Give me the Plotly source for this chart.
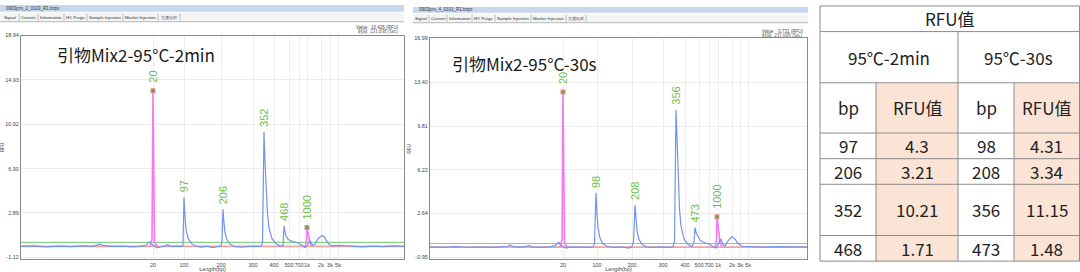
import plotly.graph_objects as go

W, H = 1080, 272
def px(x): return x / W
def py(y): return 1 - y / H

# ---------------- data ----------------
ladder_labels = ['20', '100', '200', '300', '400', '500', '700', '1k', '2k', '3k', '5k']
left_ladder_t = [132, 163, 200, 232, 253, 268, 278, 286, 300, 309, 317]
right_ladder_t = [133, 167, 202, 233, 255, 269, 279, 288, 302, 310, 318]

left_yticks = [-1.12, 2.89, 6.90, 10.92, 14.93, 18.94]
right_yticks = [-0.95, 2.64, 6.22, 9.81, 13.40, 16.99]

left_blue_t = [0, 12, 25, 38, 50, 62, 72, 77, 79, 82, 90, 102, 112, 120, 125, 127, 129, 130, 133, 136, 139, 144, 147, 149, 156, 161,
               162, 163, 164, 165, 167, 170, 174, 180, 186, 192, 197, 200, 201, 202, 203, 204, 206, 209, 213, 220, 228, 236, 240,
               241.5, 243, 244, 245, 246.5, 248, 251, 255, 259, 262, 262.5, 263, 264, 265, 267, 270, 274, 278, 281, 284, 286,
               288, 289, 290, 292, 294, 297, 301, 303, 305, 308, 311, 318, 325, 333, 342, 352, 362, 372, 383]
left_blue_y = [-0.15, -0.1, -0.18, -0.12, -0.16, -0.1, -0.14, -0.05, 0.05, -0.05, -0.15, -0.12, -0.18, -0.12, -0.05, 0.15, 0.25, 0.12, -0.05, -0.28, -0.2, -0.12, 0.0, -0.15, -0.12, -0.15,
               -0.05, 4.3, 2.6, 1.4, 0.6, 0.15, -0.1, -0.2, -0.12, -0.25, -0.15, -0.1, 0.3, 3.21, 2.0, 1.1, 0.45, 0.08, -0.15, -0.22, -0.15, -0.18, -0.15,
               0.2, 10.21, 7.5, 5.0, 2.8, 1.5, 0.55, 0.1, -0.12, -0.1, 0.5, 1.71, 1.2, 0.8, 0.5, 0.35, 0.25, 0.12, -0.05, -0.25, -0.1,
               0.3, 0.4, 0.15, -0.05, 0.05, 0.55, 0.84, 0.75, 0.45, 0.05, -0.1, -0.05, -0.1, -0.12, -0.18, -0.12, -0.16, -0.1, -0.14]

right_blue_t = [0, 12, 25, 38, 50, 62, 70, 78, 80, 83, 92, 98, 100, 102, 112, 120, 125, 127, 129, 130, 133, 136, 140, 148, 155, 163,
                164.5, 166, 167, 168, 170, 173, 177, 184, 192, 198, 202, 203.5, 205, 206, 207, 209, 212, 216, 224, 232, 238, 243,
                244.5, 246, 247, 248, 249.5, 251, 254, 258, 262, 264, 265, 266, 268, 270, 273, 277, 280, 283, 286,
                288, 290, 291, 293, 295, 298, 302, 305, 308, 312, 318, 326, 335, 345, 355, 365, 377]
right_blue_y = [-0.1, -0.14, -0.08, -0.13, -0.1, -0.15, -0.1, -0.05, 0.05, -0.08, -0.12, -0.06, 0.0, -0.1, -0.14, -0.1, 0.0, 0.15, 0.26, 0.1, -0.05, -0.2, -0.12, -0.1, -0.15, -0.1,
                0.2, 4.31, 2.6, 1.5, 0.6, 0.15, -0.05, -0.15, -0.1, -0.2, -0.1, 0.3, 3.34, 2.1, 1.2, 0.5, 0.1, -0.1, -0.15, -0.1, -0.15, -0.1,
                0.3, 11.15, 8.2, 5.5, 3.0, 1.6, 0.55, 0.1, -0.08, 0.3, 1.48, 1.1, 0.7, 0.45, 0.3, 0.2, 0.1, -0.1, -0.2,
                0.1, 0.5, 0.55, 0.1, -0.05, 0.4, 0.75, 0.55, 0.15, -0.05, -0.08, -0.1, -0.12, -0.08, -0.12, -0.1, -0.12]

left_marker_t = [129, 131, 132, 133.5, 136, None, 284, 285.5, 286, 287.5, 289, 291]
left_marker_y = [-0.14, 0.5, 13.95, 0.3, -0.14, None, -0.2, 0.5, 1.56, 0.8, 0.2, -0.1]
right_marker_t = [130, 132, 133, 134.5, 137, None, 285, 286.5, 287, 288.5, 290, 292]
right_marker_y = [-0.14, 0.5, 12.6, 0.3, -0.14, None, -0.2, 0.5, 2.36, 1.0, 0.3, -0.1]

left_peak_labels = ['20', '97', '206', '352', '468', '1000']
left_peak_t = [132, 163, 202, 243, 263, 286]
left_peak_rfu = [13.95, 4.3, 3.21, 10.21, 1.71, 1.56]
right_peak_labels = ['20', '98', '208', '356', '473', '1000']
right_peak_t = [133, 166, 205, 246, 265, 287]
right_peak_rfu = [12.6, 4.31, 3.34, 11.15, 1.48, 2.36]

left_threshold, left_baseline = 0.22, -0.14
right_threshold, right_baseline = 0.18, -0.12

cond_labels = ['95℃-2min', '95℃-30s']
tbl_bp_2min = [97, 206, 352, 468]
tbl_rfu_2min = [4.3, 3.21, 10.21, 1.71]
tbl_bp_30s = [98, 208, 356, 473]
tbl_rfu_30s = [4.31, 3.34, 11.15, 1.48]

BLUE = '#7393ec'
PINK = '#f57af2'
GREEN_TXT = '#6cbf48'
SMALL = dict(family='Liberation Sans', size=5.5, color='#444')

fig = go.Figure()

def add_panel(xa, ya, xmax, blue_t, blue_y, mk_t, mk_y, thr, base, pk_t, pk_y, pk_lab):
    fig.add_trace(go.Scatter(x=[0, xmax], y=[base, base], mode='lines', line=dict(color='#f4a3a3', width=1.6),
                             xaxis=xa, yaxis=ya, hoverinfo='skip'))
    fig.add_trace(go.Scatter(x=[0, xmax], y=[thr, thr], mode='lines', line=dict(color='#86d486', width=1.1),
                             xaxis=xa, yaxis=ya, hoverinfo='skip'))
    fig.add_trace(go.Scatter(x=mk_t, y=mk_y, mode='lines', line=dict(color=PINK, width=1.6),
                             xaxis=xa, yaxis=ya, connectgaps=False))
    fig.add_trace(go.Scatter(x=blue_t, y=blue_y, mode='lines', line=dict(color=BLUE, width=1.2),
                             xaxis=xa, yaxis=ya))
    mx = [pk_t[0], pk_t[-1]]
    my = [pk_y[0], pk_y[-1]]
    fig.add_trace(go.Scatter(x=mx, y=my, mode='markers', marker=dict(symbol='square', size=5, color='#f28a8a'),
                             xaxis=xa, yaxis=ya))
    fig.add_trace(go.Scatter(x=mx, y=my, mode='markers', marker=dict(symbol='circle', size=3, color='#3cb043'),
                             xaxis=xa, yaxis=ya))
    for i, (t, v, lab) in enumerate(zip(pk_t, pk_y, pk_lab)):
        shift = 6 if i in (0, len(pk_t) - 1) else 3
        fig.add_annotation(x=t, y=v, xref=xa, yref=ya, text=lab, textangle=-90, showarrow=False,
                           xanchor='center', yanchor='bottom', yshift=shift,
                           font=dict(family='Liberation Sans', size=11, color=GREEN_TXT))

add_panel('x', 'y', 383, left_blue_t, left_blue_y, left_marker_t, left_marker_y, left_threshold, left_baseline,
          left_peak_t, left_peak_rfu, left_peak_labels)
add_panel('x2', 'y2', 377, right_blue_t, right_blue_y, right_marker_t, right_marker_y, right_threshold, right_baseline,
          right_peak_t, right_peak_rfu, right_peak_labels)

def xaxis(dom, xmax, ladder, anchor):
    return dict(domain=dom, range=[0, xmax], tickvals=ladder, ticktext=ladder_labels, tickfont=SMALL, tickangle=0,
                showgrid=True, gridcolor='#eeeeee', gridwidth=1, zeroline=False, showline=True, linecolor='#8a8a8a',
                linewidth=1, mirror=True, ticks='', anchor=anchor,
                title=dict(text='Length(bp)', font=SMALL, standoff=0))

def yaxis(dom, rng, ticks, anchor):
    return dict(domain=dom, range=rng, tickvals=ticks, ticktext=['%.2f' % t for t in ticks], tickfont=SMALL,
                showgrid=True, gridcolor='#ececec', zeroline=False, showline=True, linecolor='#8a8a8a', linewidth=1,
                mirror=True, ticks='', anchor=anchor,
                title=dict(text='RFU', font=dict(family='Liberation Sans', size=4.5, color='#444'), standoff=2))

shapes = []
annos = []

def rect(x0, y0, x1, y1, fill, line=None, lw=0):
    shapes.append(dict(type='rect', xref='paper', yref='paper', x0=px(x0), x1=px(x1), y0=py(y1), y1=py(y0),
                       fillcolor=fill, line=dict(color=line or fill, width=lw), layer='below'))

def hline(x0, x1, y, color, w=1):
    shapes.append(dict(type='line', xref='paper', yref='paper', x0=px(x0), x1=px(x1), y0=py(y), y1=py(y),
                       line=dict(color=color, width=w)))

def vline(x, y0, y1, color, w=1):
    shapes.append(dict(type='line', xref='paper', yref='paper', x0=px(x), x1=px(x), y0=py(y0), y1=py(y1),
                       line=dict(color=color, width=w)))

def text(x, y, s, size, color='#222', xanchor='center', family='Noto Sans CJK SC'):
    annos.append(dict(x=px(x), y=py(y), xref='paper', yref='paper', text=s, showarrow=False, xanchor=xanchor,
                      yanchor='middle', font=dict(family=family, size=size, color=color)))

# window chrome for both screenshots
tabs = ['Signal', 'Current', 'Information', 'HV Purge', 'Sample Injection', 'Marker Injection', '光谱比对']
for (x0, x1, ty0, ty1, tab_edges, fname, val, tm, vy) in [
        (0, 404, 2, 9, [0, 19, 38, 64, 87, 123, 158, 180], '0903jcm_2_0103_R1.bzpx', 'Value:  10.426 (RFU)', '时间:  221.038 (Sec)', 25),
        (413, 808, 4, 10, [413, 429, 447, 472, 495, 531, 566, 586], '0903jcm_4_0101_R1.bzpx', 'Value:   0.731 (RFU)', '时间:  237.609 (Sec)', 28.5)]:
    rect(x0, ty0, x1, ty1, '#c6d7ee')
    text(x0 + 4, (ty0 + ty1) / 2, fname, 4.5, '#333', 'left', 'Liberation Sans')
    rect(x0, ty1 + 1, x1, ty1 + 10, '#f4f4f4')
    hline(x0, x1, ty1 + 10, '#b5b5b5')
    for i, tb in enumerate(tabs):
        a, b = tab_edges[i], tab_edges[i + 1]
        vline(b, ty1 + 2, ty1 + 9, '#b0b0b0', 0.8)
        text((a + b) / 2, ty1 + 5.5, tb, 4.3, '#333', 'center', 'Liberation Sans')
    text(x1 - 3, vy, val, 4.5, '#444', 'right', 'Liberation Sans')
    text(x1 - 3, vy + 4, tm, 4.5, '#444', 'right', 'Noto Sans CJK SC')

# big titles
text(55, 52, '引物Mix2-95°C-2min', 17, '#1a1a1a', 'left')
text(450, 61, '引物Mix2-95°C-30s', 17, '#1a1a1a', 'left')

# ---------------- table ----------------
cx = [820, 876, 958, 1014, 1079.5]
ry = [3, 29, 81, 132, 158, 184, 236, 262]
PEACH = '#fbe4d5'
BORDER = '#8c8c8c'
for c in (1, 3):
    rect(cx[c], ry[2], cx[c + 1], ry[-1], PEACH)
for y in ry:
    hline(cx[0], cx[-1], y, BORDER)
vline(cx[0], ry[0], ry[-1], BORDER)
vline(cx[-1], ry[0], ry[-1], BORDER)
vline(cx[2], ry[1], ry[-1], BORDER)
vline(cx[1], ry[2], ry[-1], BORDER)
vline(cx[3], ry[2], ry[-1], BORDER)

FS = 17
text((cx[0] + cx[-1]) / 2, (ry[0] + ry[1]) / 2, 'RFU值', FS)
text((cx[0] + cx[2]) / 2, (ry[1] + ry[2]) / 2, cond_labels[0], FS)
text((cx[2] + cx[4]) / 2, (ry[1] + ry[2]) / 2, cond_labels[1], FS)
for c, h in enumerate(['bp', 'RFU值', 'bp', 'RFU值']):
    text((cx[c] + cx[c + 1]) / 2, (ry[2] + ry[3]) / 2, h, FS)
for r in range(4):
    yc = (ry[3 + r] + ry[4 + r]) / 2
    vals = [tbl_bp_2min[r], tbl_rfu_2min[r], tbl_bp_30s[r], tbl_rfu_30s[r]]
    for c, v in enumerate(vals):
        text((cx[c] + cx[c + 1]) / 2, yc, str(v), FS)

fig.update_layout(
    width=W, height=H, margin=dict(l=0, r=0, t=0, b=0), showlegend=False,
    paper_bgcolor='white', plot_bgcolor='white',
    xaxis=xaxis([px(21), px(404)], 383, left_ladder_t, 'y'),
    yaxis=yaxis([py(260), py(33)], [-1.30, 18.94], left_yticks, 'x'),
    xaxis2=xaxis([px(430), px(807)], 377, right_ladder_t, 'y2'),
    yaxis2=yaxis([py(260), py(36)], [-1.11, 16.99], right_yticks, 'x2'),
    shapes=shapes, annotations=list(fig.layout.annotations) + annos,
)
fig.write_html('out.html')
